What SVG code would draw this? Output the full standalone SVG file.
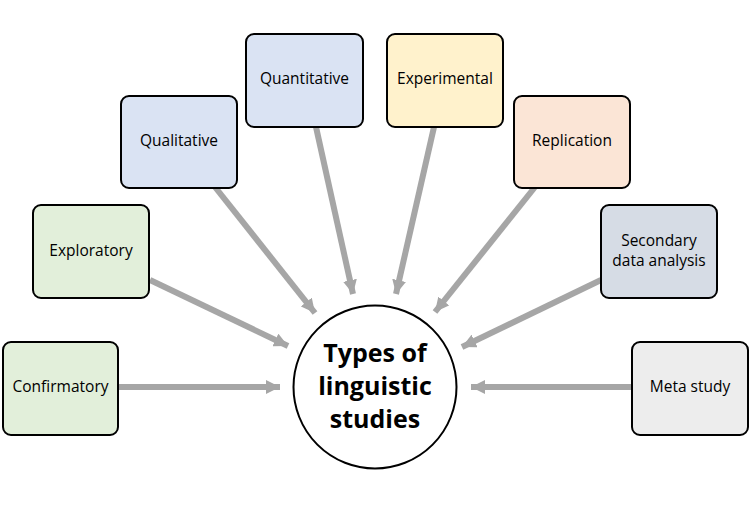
<svg xmlns="http://www.w3.org/2000/svg" width="750" height="506" viewBox="0 0 750 506">
<style>
.box{stroke:#000;stroke-width:2}
.lbl{font-family:"Open Sans","Liberation Sans",sans-serif;font-size:15.5px;fill:#000;text-anchor:middle;dominant-baseline:central}
.title{font-family:"Open Sans","Liberation Sans",sans-serif;font-size:25px;font-weight:bold;fill:#000;text-anchor:middle}
.arr{stroke:#A6A6A6;stroke-width:6;fill:none;marker-end:url(#ah)}
</style>
<defs>
<marker id="ah" markerUnits="userSpaceOnUse" markerWidth="14" markerHeight="14" viewBox="0 0 10 10" refX="10" refY="5" orient="auto">
<path d="M0,0 L10,5 L0,10 z" fill="#A6A6A6"/>
</marker>
</defs>
<rect width="750" height="506" fill="#fff"/>
<g id="connectors">
<line class="arr" x1="118" y1="387" x2="280" y2="387"/>
<line class="arr" x1="150" y1="280" x2="288" y2="346"/>
<line class="arr" x1="215" y1="187" x2="315" y2="313"/>
<line class="arr" x1="316" y1="127" x2="353" y2="294"/>
<line class="arr" x1="434" y1="127" x2="396" y2="294"/>
<line class="arr" x1="535" y1="187" x2="435" y2="312"/>
<line class="arr" x1="601" y1="280" x2="462" y2="347"/>
<line class="arr" x1="632" y1="387" x2="471" y2="387"/>
</g>
<g id="center">
<circle cx="375" cy="387" r="81.5" fill="#fff" stroke="#000" stroke-width="2"/>
<text class="title" x="375" y="362">Types of</text>
<text class="title" x="375" y="395">linguistic</text>
<text class="title" x="375" y="428">studies</text>
</g>
<g id="confirmatory">
<rect class="box" x="3" y="342" width="115" height="93" rx="8" fill="#E2EFDA"/>
<text class="lbl" x="60.5" y="386">Confirmatory</text>
</g>
<g id="exploratory">
<rect class="box" x="33" y="205" width="116" height="93" rx="8" fill="#E2EFDA"/>
<text class="lbl" x="91" y="250">Exploratory</text>
</g>
<g id="qualitative">
<rect class="box" x="121" y="96" width="116" height="92" rx="8" fill="#DAE3F3"/>
<text class="lbl" x="179" y="140">Qualitative</text>
</g>
<g id="quantitative">
<rect class="box" x="246" y="34" width="117" height="93" rx="8" fill="#DAE3F3"/>
<text class="lbl" x="304.5" y="78">Quantitative</text>
</g>
<g id="experimental">
<rect class="box" x="387" y="34" width="116" height="93" rx="8" fill="#FFF2CC"/>
<text class="lbl" x="445" y="78">Experimental</text>
</g>
<g id="replication">
<rect class="box" x="514" y="96" width="116" height="92" rx="8" fill="#FBE5D6"/>
<text class="lbl" x="572" y="140">Replication</text>
</g>
<g id="secondary">
<rect class="box" x="601" y="205" width="116" height="93" rx="8" fill="#D6DCE5"/>
<text class="lbl" x="659" y="240">Secondary</text>
<text class="lbl" x="659" y="260">data analysis</text>
</g>
<g id="meta">
<rect class="box" x="632" y="342" width="116" height="93" rx="8" fill="#EDEDED"/>
<text class="lbl" x="690" y="386">Meta study</text>
</g>
</svg>
